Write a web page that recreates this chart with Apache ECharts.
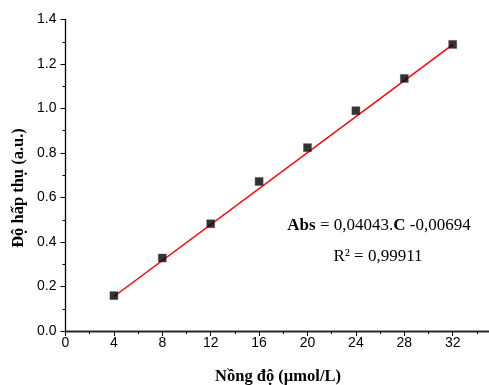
<!DOCTYPE html>
<html>
<head>
<meta charset="utf-8">
<script src="https://cdn.jsdelivr.net/npm/echarts@6/dist/echarts.min.js"></script>
<style>html,body{margin:0;padding:0;background:#fff;}#c{width:489px;height:385px;}</style>
</head>
<body>
<div id="c"></div>
<script>
const concentrations = [4, 8, 12, 16, 20, 24, 28, 32];
const absorbance = [0.159, 0.328, 0.482, 0.672, 0.824, 0.990, 1.135, 1.288];
const fitX = [4, 32];
const fitY = [0.155, 1.287];
const xTitle = 'Nồng độ (µmol/L)';
const yTitle = 'Độ hấp thụ (a.u.)';

const chart = echarts.init(document.getElementById('c'), null, {renderer: 'canvas'});
const tickFont = {fontFamily: 'Liberation Sans, Arial, sans-serif', fontSize: 14, color: '#000'};
const titleFont = 'bold 16.5px "Liberation Serif", serif';
chart.setOption({
  animation: false,
  backgroundColor: '#fff',
  grid: {left: 65.5, top: 19.5, right: 0, bottom: 54},
  xAxis: [{
    type: 'value', min: 0, max: 35, interval: 4,
    axisLine: {show: true, onZero: false, lineStyle: {color: '#000', width: 1.3}},
    axisTick: {show: true, length: 5, lineStyle: {color: '#000'}},
    minorTick: {show: true, splitNumber: 2, length: 3, lineStyle: {color: '#000'}},
    splitLine: {show: false},
    axisLabel: Object.assign({margin: 5, showMaxLabel: false}, tickFont)
  }, {
    type: 'value', min: 0, max: 35, position: 'top',
    axisLine: {show: true, lineStyle: {color: '#222', width: 1.3}},
    axisTick: {show: false}, axisLabel: {show: false}, splitLine: {show: false}
  }],
  yAxis: {
    type: 'value', min: 0, max: 1.4, interval: 0.2,
    axisLine: {show: true, lineStyle: {color: '#000', width: 1.3}},
    axisTick: {show: true, length: 5, lineStyle: {color: '#000'}},
    minorTick: {show: true, splitNumber: 2, length: 3, lineStyle: {color: '#000'}},
    splitLine: {show: false},
    axisLabel: Object.assign({margin: 9, formatter: v => v.toFixed(1)}, tickFont)
  },
  series: [{
    type: 'line',
    data: fitX.map((x, i) => [x, fitY[i]]),
    showSymbol: false,
    lineStyle: {color: '#ff0000', width: 1.5},
    z: 2
  }, {
    type: 'scatter',
    data: concentrations.map((x, i) => [x, absorbance[i]]),
    symbol: 'rect', symbolSize: 8,
    itemStyle: {color: '#000', borderColor: '#444', borderWidth: 0.5},
    z: 3
  }],
  graphic: [{
    type: 'text', x: 19, y: 188, rotation: Math.PI / 2,
    style: {text: yTitle, font: titleFont, fill: '#000', align: 'center', verticalAlign: 'middle'}
  }, {
    type: 'text', x: 278, y: 377,
    style: {text: xTitle, font: titleFont, fill: '#000', align: 'center', verticalAlign: 'middle'}
  }, {
    type: 'text', x: 379, y: 226,
    style: {
      text: '{b|Abs} = 0,04043.{b|C} -0,00694',
      font: '17px "Liberation Serif", serif', fill: '#000', align: 'center', verticalAlign: 'middle',
      rich: {b: {fontWeight: 'bold', fontFamily: 'Liberation Serif', fontSize: 17, fill: '#000'}}
    }
  }, {
    type: 'text', x: 378, y: 257,
    style: {text: 'R² = 0,99911', font: '17px "Liberation Serif", serif', fill: '#000', align: 'center', verticalAlign: 'middle'}
  }]
});
</script>
</body>
</html>
